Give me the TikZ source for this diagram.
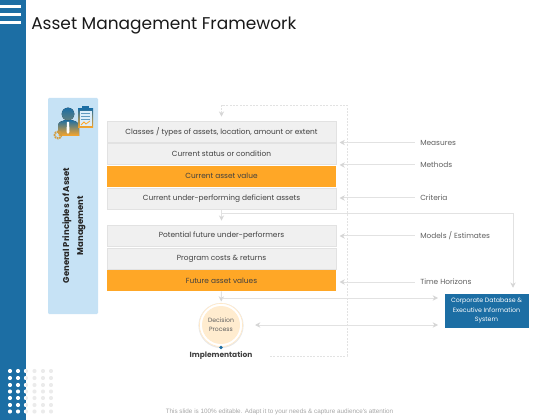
\documentclass[tikz,border=0pt]{standalone}
\usepackage{fontspec}
\setmainfont{Poppins}
\newfontfamily\footfont{Liberation Sans}
\usetikzlibrary{arrows.meta}
\definecolor{slideblue}{HTML}{1C6EA4}
\definecolor{panelblue}{HTML}{C6E2F5}
\definecolor{rowgray}{HTML}{F0F0F0}
\definecolor{roworange}{HTML}{FFA726}
\definecolor{linegray}{HTML}{E2E2E2}
\definecolor{tipgray}{HTML}{D6D6D6}
\definecolor{txtdark}{HTML}{404040}
\definecolor{txtgray}{HTML}{5F5F5F}
\newcommand{\rw}{\fontsize{5.55}{7}\selectfont}

\begin{document}
\begin{tikzpicture}[
  x=.75pt, y=-.75pt,
  >={Stealth[length=4pt,width=4pt,color=tipgray]},
  row/.style={draw=linegray, line width=.4pt, fill=rowgray, minimum width=171.5pt, minimum height=15.8pt, inner sep=0pt, font=\rw, text=txtdark},
  hot/.style={row, draw=none, fill=roworange},
  lbl/.style={font=\rw, text=txtgray, anchor=west, inner sep=3.75pt},
  flow/.style={->, draw=linegray, line width=.75pt},
  both/.style={<->, draw=linegray, line width=.75pt},
  dashline/.style={->, draw=linegray, line width=.6pt, dash pattern=on 1.5pt off 1pt},
  person/.style={top color=slideblue, bottom color=roworange, draw=none},
]
  \useasboundingbox (0,0) rectangle (560,420);

  % sidebar and its dots
  \fill[slideblue] (0,0) rectangle (25.5,420);
  \foreach \y in {7,15,23} \fill[white] (0,\y-1.5) rectangle (20.5,\y+1.5);
  \foreach \x in {26,34.5,43,51} \foreach \y in {371,378,385,391.5,398,405,411.5}
    \fill[black!8] (\x,\y) circle (2.1);
  \begin{scope}
    \clip (0,360) rectangle (25.5,420);
    \foreach \x in {10,18,26} \foreach \y in {371,378,385,391.5,398,405,411.5}
      \fill[white] (\x,\y) circle (2.1);
  \end{scope}

  \node[anchor=west, inner sep=0pt, font=\fontsize{12.75}{16}\selectfont, text=black!90] (title) at (31,26) {Asset Management Framework};

  % left panel
  \fill[panelblue, rounded corners=.8pt] (48,98) rectangle (98,314);
  \fill[person] (58,136) -- (58,126) .. controls (58,122) and (62,121) .. (65,120) -- (71,120) .. controls (75,121) and (79,122) .. (79,126) -- (79,136) -- cycle;
  \fill[top color=slideblue, bottom color=slideblue!70!roworange] (68,114) circle (6.3);
  \fill[white] (67,122) -- (69,122) -- (69.5,132) -- (68,134) -- (66.5,132) -- cycle;
  \fill[top color=slideblue, bottom color=roworange] (78,108.5) rectangle (93,128);
  \fill[panelblue!60!white] (79.5,111) rectangle (91.5,126.5);
  \fill[slideblue] (82,106.5) rectangle (89,110);
  \foreach \y in {113.5,116.5,119.5} \draw[slideblue!70, line width=.6pt] (81,\y) -- (90,\y);
  \draw[roworange, line width=.6pt] (81,125) -- (84,122) -- (86,124) -- (90,121);
  \draw[roworange!80!slideblue, line width=1.5pt, dash pattern=on 1.2pt off .6pt] (58,135) circle (3.4);
  \fill[panelblue] (58,135) circle (1.2);
  \node[rotate=90, align=center, font=\fontsize{6.35}{10.5}\selectfont\bfseries, text=black!85] (panel) at (74,225.5) {General Principles of Asset\\Management};

  % rows
  \node[row] (cls) at (221.5,131.5) {Classes / types of assets, location, amount or extent};
  \node[row] (cond) at (221.5,153.8) {Current status or condition};
  \node[hot] (cval) at (221.5,176.2) {Current asset value};
  \node[row] (defic) at (221.5,198.8) {Current under-performing deficient assets};
  \node[row] (pot) at (221.5,235.5) {Potential future under-performers};
  \node[row] (cost) at (221.5,258.5) {Program costs \& returns};
  \node[hot] (fval) at (221.5,280.5) {Future asset values};

  % right labels
  \node[lbl] (meas) at (415,142.5) {Measures};
  \node[lbl] (meth) at (415,165) {Methods};
  \node[lbl] (crit) at (415,198) {Criteria};
  \node[lbl] (model) at (415,236) {Models / Estimates};
  \node[lbl] (hor) at (415,282) {Time Horizons};
  \coordinate (tip) at (339.5,0);
  \foreach \l in {meas,meth,crit,model,hor} \draw[flow] (\l.west) -- (\l.west -| tip);

  \node[fill=slideblue, draw=white, line width=.4pt, minimum width=64pt, minimum height=26.5pt, inner sep=0pt, align=center, text=white, font=\fontsize{4.7}{7.1}\selectfont] (db) at (486.5,310.5) {Corporate Database \&\\Executive Information\\System};

  % decision circle
  \fill[black!9] (221,325.5) circle (22.6);
  \fill[white] (221,325) circle (21.8);
  \draw[roworange!25, line width=.5pt] (221,325) circle (21.6);
  \node[circle, fill=roworange!22, minimum size=28.5pt, inner sep=0pt, align=center, font=\fontsize{4.6}{7}\selectfont, text=txtgray] (dec) at (221,325) {Decision\\Process};
  \fill[slideblue] (221,347.5) circle (1.8);
  \node[font=\fontsize{5.6}{8}\selectfont\bfseries, text=txtdark, inner sep=1pt] (impl) at (221,356) {Implementation};

  % connectors
  \draw[flow, shorten >=3pt] (defic.south) -- (pot.north);
  \coordinate (branch) at (defic.south |- 0,214);
  \coordinate (dbin) at (513,0 |- db.north);
  \draw[flow, shorten >=3.6pt] (branch) -| (dbin);
  \draw[flow, shorten >=3.3pt] (fval.south) -- (dec.north |- 0,306);
  \coordinate (dbgo) at (438,298);
  \draw[flow] (fval.south |- dbgo) -- (dbgo);
  \draw[both] (dec.east -| 255,0) -- (dec.east -| dbgo);
  \coordinate (dashtop) at (347,105);
  \draw[dashline, shorten <=12pt, shorten >=3pt] (impl.east) -| (dashtop) -| (cls.north);

  \node[font=\footfont\fontsize{4.75}{6}\selectfont, text=black!35, inner sep=0pt] (note) at (279.5,412) {This slide is 100\% editable. Adapt it to your needs \& capture audience's attention};
\end{tikzpicture}
\end{document}
